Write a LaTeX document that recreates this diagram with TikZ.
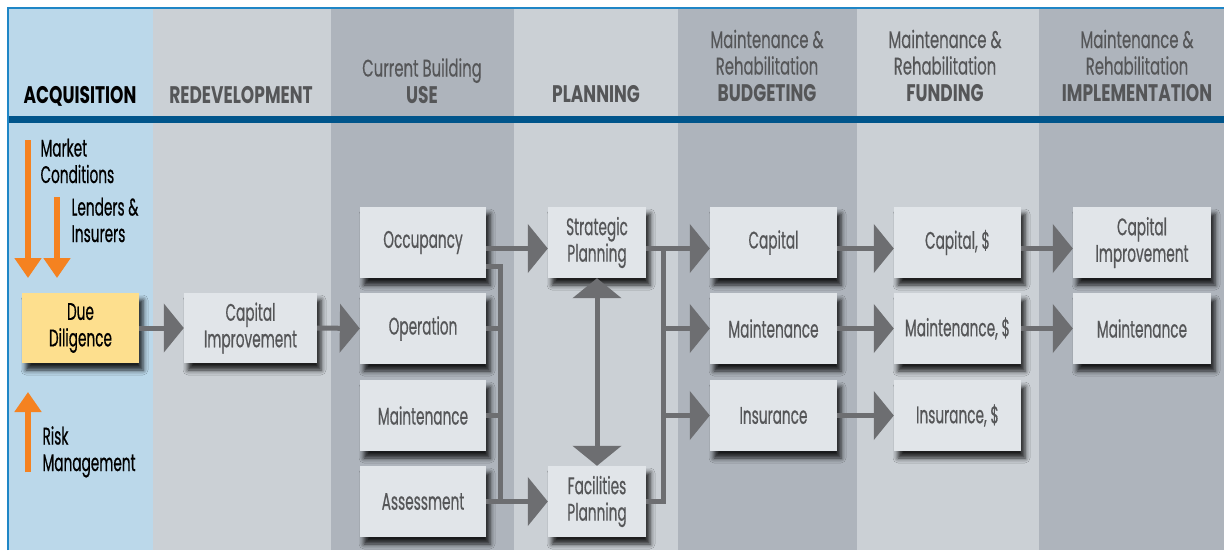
\documentclass[tikz,border=0pt]{standalone}
\usepackage{fontspec}
\setmainfont{Poppins}[FakeStretch=0.57, FakeBold=0.5]
\newfontfamily\headfont{Poppins}[FakeStretch=0.62, FakeBold=0.3]
\newfontfamily\headbold{Poppins}[FakeStretch=0.71]
\usetikzlibrary{arrows.meta}
\usetikzlibrary{shadows.blur}

\definecolor{acqblue}{HTML}{BBD8EA}
\definecolor{collight}{HTML}{CBD0D5}
\definecolor{coldark}{HTML}{AEB4BC}
\definecolor{bandblue}{HTML}{00558B}
\definecolor{frameblue}{HTML}{1F86C6}
\definecolor{boxfill}{HTML}{E1E5E9}
\definecolor{duefill}{HTML}{FDDF8E}
\definecolor{txtgray}{HTML}{555658}
\definecolor{arrgray}{HTML}{6D6E71}
\definecolor{arrorange}{HTML}{F58220}

\begin{document}
\begin{tikzpicture}
        [
            x = 1pt, y = -1pt, > = {Triangle[length=20pt, width=48pt]},
            box/.style = {rectangle, fill=boxfill, text=txtgray, align=center, inner sep=0pt,
                minimum height=71pt, font=\fontsize{24}{26.5}\selectfont,
                blur shadow={shadow xshift=4pt, shadow yshift=-7pt, shadow blur radius=5pt, shadow opacity=85}},
            head/.style = {anchor=base, align=center, text=txtgray, font=\fontsize{24}{26.5}\selectfont\headfont},
            side/.style = {anchor=base west, align=left, font=\fontsize{24}{26.5}\selectfont},
            link/.style = {draw=arrgray, line width=5pt},
            arr/.style = {link, ->},
            orangearr/.style = {draw=arrorange, line width=5.5pt, -{Triangle[length=20pt, width=26pt]}}
        ]
        \useasboundingbox (0, 0) rectangle (1224, 550);
        \fill [white] (0, 0) rectangle (1224, 550);

        % columns
        \fill [acqblue] (8, 8) rectangle (153, 550);
        \fill [collight] (153, 8) rectangle (331, 550);
        \fill [coldark] (331, 8) rectangle (514, 550);
        \fill [collight] (514, 8) rectangle (678, 550);
        \fill [coldark] (678, 8) rectangle (857, 550);
        \fill [collight] (857, 8) rectangle (1039, 550);
        \fill [coldark] (1039, 8) rectangle (1224, 550);
        \fill [bandblue] (8, 116) rectangle (1224, 123);
        \draw [frameblue, line width=1.5pt] (8, 550) -- (8, 8) -- (1224, 8);

        % headings
        \node [head, text=black] at (80, 103) (hAcq) {\headbold\bfseries ACQUISITION};
        \node [head] at (241, 103) (hRedev) {\headbold\bfseries REDEVELOPMENT};
        \node [head] at (422, 103) (hUse) {Current Building\\\headbold\bfseries USE};
        \node [head] at (596, 102) (hPlan) {\headbold\bfseries PLANNING};
        \node [head] at (767, 101) (hBud) {Maintenance \&\\Rehabilitation\\\headbold\bfseries BUDGETING};
        \node [head] at (945, 101) (hFund) {Maintenance \&\\Rehabilitation\\\headbold\bfseries FUNDING};
        \node [head] at (1137, 101) (hImp) {Maintenance \&\\Rehabilitation\\\headbold\bfseries IMPLEMENTATION};

        % acquisition inputs
        \node [side] at (37, 183) (lMarket) {Market\\Conditions};
        \node [side] at (68, 242) (lLend) {Lenders \&\\Insurers};
        \node [side] at (39, 471) (lRisk) {Risk\\Management};
        \coordinate (mktTop) at (28, 140);
        \coordinate (mktTip) at (28, 278);
        \coordinate (lendTop) at (57, 197);
        \coordinate (lendTip) at (57, 278);
        \coordinate (riskBot) at (28, 472);
        \coordinate (riskTip) at (28, 392);
        \draw [orangearr] (mktTop) -- (mktTip);
        \draw [orangearr] (lendTop) -- (lendTip);
        \draw [orangearr] (riskBot) -- (riskTip);

        % boxes
        \node [box, fill=duefill, text=black, minimum width=117pt, minimum height=70pt] at (80.5, 328) (due) {Due\\Diligence};
        \node [box, minimum width=133pt, minimum height=70pt] at (250.5, 328) (redev) {Capital\\Improvement};
        \node [box, minimum width=126pt] at (423, 242.5) (occ) {Occupancy};
        \node [box, minimum width=126pt] at (423, 328.5) (oper) {Operation};
        \node [box, minimum width=126pt] at (423, 415.5) (usemaint) {Maintenance};
        \node [box, minimum width=126pt] at (423, 501.5) (assess) {Assessment};
        \node [box, minimum width=98pt] at (597, 242.5) (strat) {Strategic\\Planning};
        \node [box, minimum width=98pt] at (597, 501.5) (facil) {Facilities\\Planning};
        \node [box, minimum width=127pt] at (773.5, 242.5) (budcap) {Capital};
        \node [box, minimum width=127pt] at (773.5, 328.5) (budmaint) {Maintenance};
        \node [box, minimum width=127pt] at (773.5, 415.5) (budins) {Insurance};
        \node [box, minimum width=127pt] at (957.5, 242.5) (fundcap) {Capital, \$};
        \node [box, minimum width=127pt] at (957.5, 328.5) (fundmaint) {Maintenance, \$};
        \node [box, minimum width=127pt] at (957.5, 415.5) (fundins) {Insurance, \$};
        \node [box, minimum width=138pt] at (1142, 242.5) (impcap) {Capital\\Improvement};
        \node [box, minimum width=138pt] at (1142, 328.5) (impmaint) {Maintenance};

        % connectors
        \coordinate (usebus) at (500, 502);
        \coordinate (budbus) at (663, 502);
        \draw [arr] (due.east) -- (redev.west);
        \draw [arr] (redev.east) -- (oper.west);
        \draw [arr] ([yshift=-6pt]occ.east) -- ([yshift=-6pt]strat.west);
        \draw [link] ([yshift=-23.5pt]occ.east) -| (usebus);
        \draw [link] (oper.east) -- (oper.east -| usebus);
        \draw [link] (usemaint.east) -- (usemaint.east -| usebus);
        \draw [arr] (assess.east) -- (facil.west);
        \draw [link, <->] (strat.south) -- (facil.north);
        \draw [arr] ([yshift=-6pt]strat.east) -- ([yshift=-6pt]budcap.west);
        \draw [link] (facil.east) -| ([yshift=-6pt]strat.east -| budbus);
        \draw [arr] (budmaint.west -| budbus) -- (budmaint.west);
        \draw [arr] (budins.west -| budbus) -- (budins.west);
        \draw [arr] ([yshift=-6pt]budcap.east) -- ([yshift=-6pt]fundcap.west);
        \draw [arr] (budmaint.east) -- (fundmaint.west);
        \draw [arr] (budins.east) -- (fundins.west);
        \draw [arr] ([yshift=-6pt]fundcap.east) -- ([yshift=-6pt]impcap.west);
        \draw [arr] (fundmaint.east) -- (impmaint.west);
    \end{tikzpicture}
\end{document}
